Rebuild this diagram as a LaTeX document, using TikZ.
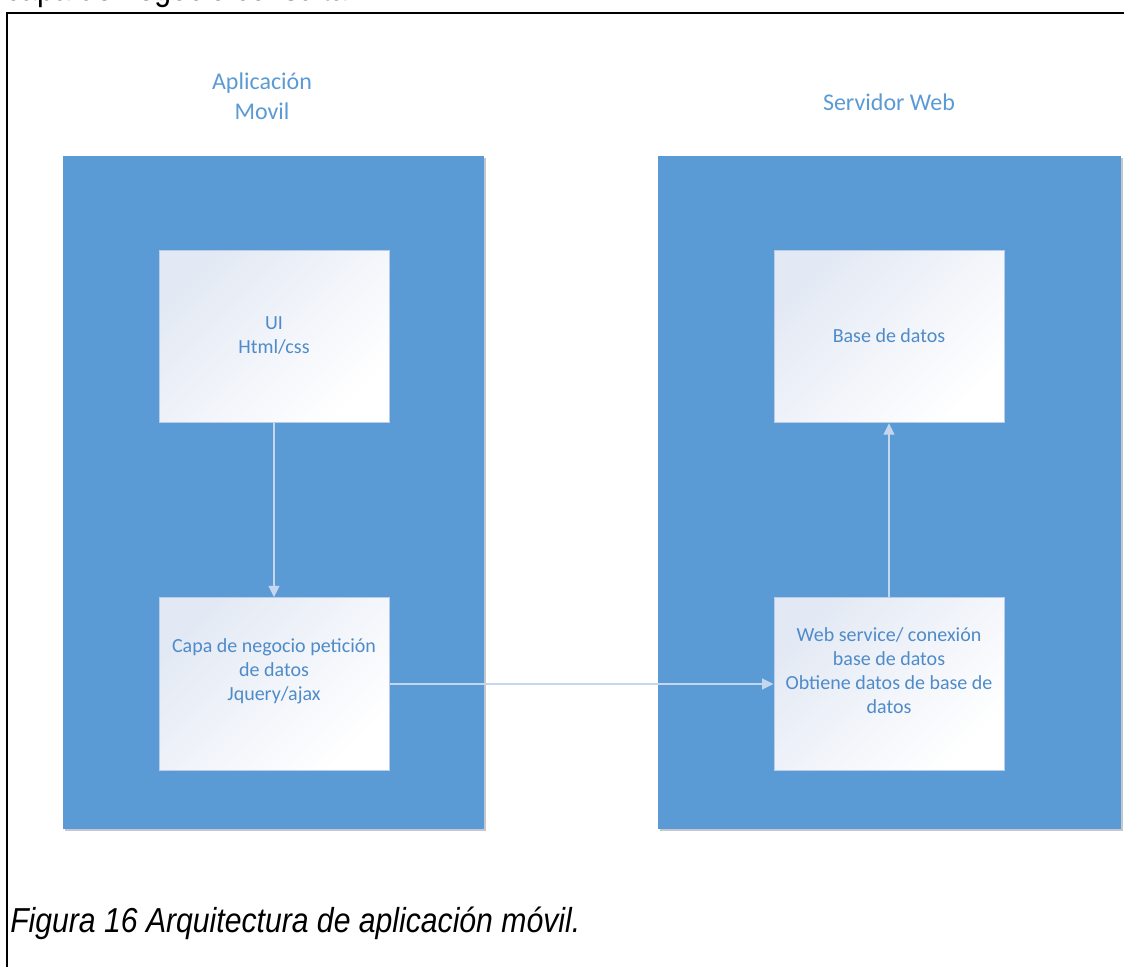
\documentclass[tikz,border=0pt]{standalone}
\usepackage{graphicx}
\usepackage{fontspec}
\setmainfont{Carlito}
\newfontfamily\capfont{Liberation Sans}
\usetikzlibrary{arrows.meta}

\definecolor{panelblue}{HTML}{5B9BD5}
\definecolor{panelshadow}{HTML}{C4C8CE}
\definecolor{cardtl}{HTML}{E3E9F4}
\definecolor{cardline}{HTML}{B9CDEA}
\definecolor{linkcol}{HTML}{C6D6EE}
\definecolor{headtext}{HTML}{5B9BD5}
\definecolor{cardtext}{HTML}{4F8BC9}

\begin{document}
\begin{tikzpicture}[x=0.75pt,y=-0.75pt,
  panel/.style={fill=panelblue, draw=none, inner sep=0pt},
  panelshade/.style={fill=panelshadow, draw=none, inner sep=0pt},
  card/.style={draw=cardline, line width=0.75pt, top color=cardtl,
    bottom color=white, shading angle=45, inner sep=0pt,
    minimum width=172.5pt, minimum height=129.5pt},
  heading/.style={text=headtext, font=\fontsize{18}{22.5}\selectfont,
    align=center, inner sep=0pt},
  cardlabel/.style={text=cardtext, font=\fontsize{15}{18}\selectfont,
    align=center, inner sep=0pt},
  link/.style={draw=linkcol, line width=1.5pt,
    -{Triangle[length=8.5pt,width=8pt]}},
  plain/.style={inner sep=0pt, text=black}
]
\useasboundingbox (0,0) rectangle (1124,967);
\clip (0,0) rectangle (1124,967);
\fill[white] (0,0) rectangle (1124,967);

% text of the preceding paragraph, cut by the frame
\node[plain, anchor=base west, font=\capfont\fontsize{26}{30}\selectfont]
  (prev) at (5,1) {\scalebox{0.87}[1]{capa de negocio consulta}};

% figure frame
\draw[line width=1.1pt] (7,967) -- (7,13) -- (1124,13);

% panel shadows
\node[panelshade, minimum width=315.75pt, minimum height=504.75pt] at (275.5,494.5) {};
\node[panelshade, minimum width=347.25pt, minimum height=504.75pt] at (891.5,494.5) {};

% panels
\node[panel, minimum width=315.75pt, minimum height=504.75pt] (app) at (273.5,492.5) {};
\node[panel, minimum width=347.25pt, minimum height=504.75pt] (srv) at (889.5,492.5) {};

% headings
\node[heading] (apptitle) at (262,96) {Aplicación\\Movil};
\node[heading, anchor=base] (srvtitle) at (889,110) {Servidor Web};

% cards
\node[card] (ui)   at (274,336.5) {};
\node[card] (capa) at (274,684) {};
\node[card] (base) at (889,336.5) {};
\node[card] (web)  at (889,684) {};

% card texts
\node[cardlabel, anchor=base] (uitext) at (274,353) {UI\\Html/css};
\node[cardlabel, anchor=base] (capatext) at (274,700)
  {Capa de negocio petición\\de datos\\Jquery/ajax};
\node[cardlabel, anchor=base] (basetext) at (889,342) {Base de datos};
\node[cardlabel, anchor=base] (webtext) at (889,713)
  {Web service/ conexión\\base de datos\\Obtiene datos de base de\\datos};

% connectors
\draw[link] (ui) -- (capa);
\draw[link] (capa) -- (web);
\draw[link] (web) -- (base);

% caption
\node[plain, anchor=base west, font=\capfont\itshape\fontsize{26}{30}\selectfont]
  (caption) at (10,932) {\scalebox{0.87}[1]{Figura 16 Arquitectura de aplicación móvil.}};
\end{tikzpicture}
\end{document}
